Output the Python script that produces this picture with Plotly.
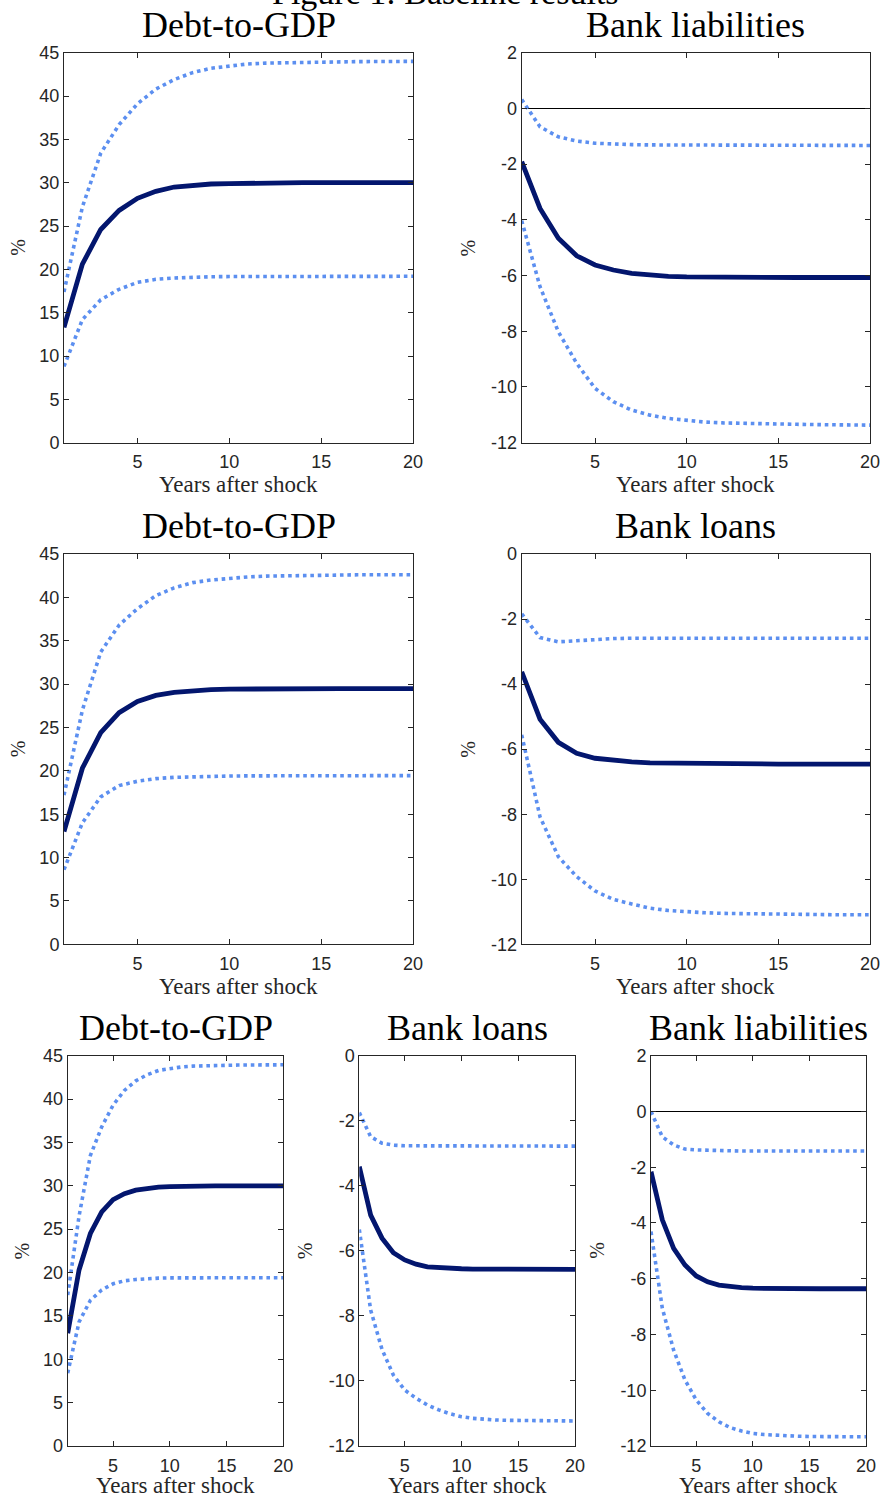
import plotly.graph_objects as go

# Horizon in years after the shock
years = list(range(1, 21))

# Row 1, left: Debt-to-GDP
debt1_mid = [13.3, 20.6, 24.6, 26.8, 28.2, 29.0, 29.5, 29.7, 29.85, 29.9,
             29.95, 29.97, 29.98, 30.0, 30.0, 30.0, 30.0, 30.0, 30.0, 30.0]
debt1_hi = [17.4, 27.2, 33.4, 36.7, 39.1, 40.8, 41.9, 42.7, 43.2, 43.5,
            43.7, 43.8, 43.85, 43.9, 43.92, 43.95, 43.97, 43.98, 44.0, 44.0]
debt1_lo = [8.8, 14.2, 16.5, 17.7, 18.5, 18.85, 19.0, 19.1, 19.15, 19.17,
            19.18, 19.2, 19.2, 19.2, 19.2, 19.2, 19.2, 19.2, 19.2, 19.2]

# Row 1, right: Bank liabilities
liab1_mid = [-1.91, -3.59, -4.66, -5.29, -5.62, -5.80, -5.92, -5.99, -6.03, -6.05,
             -6.06, -6.06, -6.07, -6.07, -6.07, -6.07, -6.07, -6.07, -6.07, -6.07]
liab1_hi = [0.32, -0.66, -1.02, -1.17, -1.25, -1.29, -1.30, -1.31, -1.31, -1.32,
            -1.32, -1.32, -1.32, -1.33, -1.33, -1.33, -1.33, -1.33, -1.33, -1.33]
liab1_lo = [-4.03, -6.40, -8.02, -9.15, -10.05, -10.53, -10.83, -11.01, -11.13, -11.21,
            -11.26, -11.29, -11.31, -11.32, -11.33, -11.34, -11.35, -11.36, -11.36, -11.37]

# Row 2, left: Debt-to-GDP
debt2_mid = [13.0, 20.3, 24.4, 26.7, 28.0, 28.7, 29.05, 29.25, 29.36, 29.42,
             29.45, 29.47, 29.48, 29.48, 29.48, 29.48, 29.48, 29.48, 29.48, 29.48]
debt2_hi = [17.2, 27.0, 33.7, 36.8, 38.7, 40.2, 41.1, 41.7, 42.0, 42.2,
            42.35, 42.45, 42.5, 42.55, 42.57, 42.58, 42.6, 42.6, 42.6, 42.6]
debt2_lo = [8.6, 14.0, 17.0, 18.3, 18.8, 19.1, 19.25, 19.32, 19.38, 19.4,
            19.42, 19.43, 19.44, 19.45, 19.45, 19.45, 19.45, 19.45, 19.45, 19.45]

# Row 2, right: Bank loans
loans2_mid = [-3.62, -5.08, -5.79, -6.13, -6.28, -6.35, -6.39, -6.42, -6.43, -6.44,
              -6.45, -6.45, -6.46, -6.46, -6.46, -6.46, -6.46, -6.46, -6.46, -6.46]
loans2_hi = [-1.84, -2.57, -2.70, -2.66, -2.62, -2.60, -2.59, -2.59, -2.59, -2.59,
             -2.59, -2.59, -2.59, -2.59, -2.59, -2.59, -2.59, -2.59, -2.59, -2.59]
loans2_lo = [-5.56, -8.08, -9.31, -9.92, -10.36, -10.62, -10.76, -10.89, -10.96, -11.00,
             -11.03, -11.05, -11.06, -11.07, -11.07, -11.08, -11.08, -11.09, -11.09, -11.09]

# Row 3: Debt-to-GDP
debt3_mid = [13.0, 20.3, 24.5, 27.0, 28.4, 29.1, 29.5, 29.7, 29.85, 29.9,
             29.95, 29.97, 29.98, 30.0, 30.0, 30.0, 30.0, 30.0, 30.0, 30.0]
debt3_hi = [17.4, 26.5, 33.5, 36.8, 39.3, 41.0, 42.1, 42.8, 43.3, 43.55,
            43.7, 43.8, 43.85, 43.88, 43.9, 43.92, 43.93, 43.94, 43.95, 43.95]
debt3_lo = [8.4, 14.3, 16.8, 18.0, 18.7, 19.05, 19.2, 19.3, 19.35, 19.38,
            19.4, 19.4, 19.4, 19.4, 19.4, 19.4, 19.4, 19.4, 19.4, 19.4]

# Row 3: Bank loans
loans3_mid = [-3.41, -4.90, -5.61, -6.06, -6.28, -6.41, -6.49, -6.52, -6.54, -6.55,
              -6.56, -6.56, -6.57, -6.57, -6.57, -6.57, -6.57, -6.57, -6.57, -6.57]
loans3_hi = [-1.75, -2.49, -2.69, -2.75, -2.77, -2.77, -2.78, -2.78, -2.78, -2.78,
             -2.78, -2.78, -2.78, -2.78, -2.78, -2.78, -2.78, -2.78, -2.78, -2.78]
loans3_lo = [-5.34, -7.82, -9.03, -9.82, -10.28, -10.53, -10.74, -10.89, -11.01, -11.10,
             -11.15, -11.18, -11.20, -11.21, -11.21, -11.22, -11.22, -11.23, -11.23, -11.23]

# Row 3: Bank liabilities
liab3_mid = [-2.16, -3.89, -4.91, -5.51, -5.90, -6.11, -6.23, -6.29, -6.32, -6.34,
             -6.35, -6.35, -6.36, -6.36, -6.36, -6.36, -6.36, -6.36, -6.36, -6.36]
liab3_hi = [0.0, -0.91, -1.20, -1.35, -1.38, -1.40, -1.41, -1.41, -1.42, -1.42,
            -1.42, -1.42, -1.42, -1.42, -1.42, -1.42, -1.42, -1.42, -1.42, -1.42]
liab3_lo = [-4.31, -7.06, -8.56, -9.63, -10.35, -10.83, -11.13, -11.34, -11.46, -11.55,
            -11.59, -11.62, -11.64, -11.65, -11.66, -11.66, -11.67, -11.67, -11.67, -11.67]

# Axis ticks
debt_ticks = list(range(0, 50, 5))
liab_ticks = list(range(-12, 4, 2))
loans_ticks = list(range(-12, 2, 2))
x_ticks = [5, 10, 15, 20]

W, H = 883, 1499
NAVY = "#03166e"
LIGHT = "#5c8ff0"
AXCOL = "#262626"
SERIF = "Liberation Serif"
SANS = "Liberation Sans"

# Panel boxes in pixels: (left, right, top, bottom); xl = gap to the x-axis title
panels = [
    dict(title="Debt-to-GDP", box=(64, 413, 52.7, 442.7), yr=[0, 45], yt=debt_ticks,
         mid=debt1_mid, hi=debt1_hi, lo=debt1_lo, zero=False, pct=46, xl=42),
    dict(title="Bank liabilities", box=(521.7, 870, 52.7, 442.7), yr=[-12, 2], yt=liab_ticks,
         mid=liab1_mid, hi=liab1_hi, lo=liab1_lo, zero=True, pct=54, xl=42),
    dict(title="Debt-to-GDP", box=(64, 413, 554, 944.3), yr=[0, 45], yt=debt_ticks,
         mid=debt2_mid, hi=debt2_hi, lo=debt2_lo, zero=False, pct=46, xl=42),
    dict(title="Bank loans", box=(521.7, 870, 554, 944.3), yr=[-12, 0], yt=loans_ticks,
         mid=loans2_mid, hi=loans2_hi, lo=loans2_lo, zero=False, pct=54, xl=42),
    dict(title="Debt-to-GDP", box=(67.7, 283.3, 1055.7, 1446), yr=[0, 45], yt=debt_ticks,
         mid=debt3_mid, hi=debt3_hi, lo=debt3_lo, zero=False, pct=46, xl=39),
    dict(title="Bank loans", box=(359.3, 575, 1055.7, 1446), yr=[-12, 0], yt=loans_ticks,
         mid=loans3_mid, hi=loans3_hi, lo=loans3_lo, zero=False, pct=54, xl=39),
    dict(title="Bank liabilities", box=(651, 866, 1055.7, 1446), yr=[-12, 2], yt=liab_ticks,
         mid=liab3_mid, hi=liab3_hi, lo=liab3_lo, zero=True, pct=54, xl=39),
]

fig = go.Figure()
layout = dict(
    template="none",
    width=W, height=H,
    margin=dict(l=0, r=0, t=0, b=0, pad=0),
    paper_bgcolor="white", plot_bgcolor="white",
    showlegend=False,
)
annotations = []

for i, p in enumerate(panels, start=1):
    xa = "x" if i == 1 else f"x{i}"
    ya = "y" if i == 1 else f"y{i}"
    left, right, top, bottom = p["box"]

    axis_common = dict(
        showgrid=False, showline=True, linecolor=AXCOL, linewidth=1,
        mirror="ticks", ticks="inside", ticklen=5, tickwidth=1, tickcolor=AXCOL,
        tickfont=dict(family=SANS, size=18, color=AXCOL), automargin=False,
    )
    layout["xaxis" if i == 1 else f"xaxis{i}"] = dict(
        axis_common, domain=[left / W, right / W], anchor=ya,
        range=[1, 20], tickvals=x_ticks, ticktext=[str(v) for v in x_ticks],
        zeroline=False, ticklabelstandoff=3,
    )
    layout["yaxis" if i == 1 else f"yaxis{i}"] = dict(
        axis_common, domain=[1 - bottom / H, 1 - top / H], anchor=xa,
        range=p["yr"], tickvals=p["yt"], ticktext=[str(v) for v in p["yt"]],
        zeroline=p["zero"], zerolinecolor="black", zerolinewidth=1,
    )

    for series in (p["hi"], p["lo"]):
        fig.add_trace(go.Scatter(
            x=years, y=series, xaxis=xa, yaxis=ya, mode="lines",
            line=dict(color=LIGHT, width=3.6, dash="3.6px,3.8px"), hoverinfo="skip",
        ))
    fig.add_trace(go.Scatter(
        x=years, y=p["mid"], xaxis=xa, yaxis=ya, mode="lines",
        line=dict(color=NAVY, width=4.8), hoverinfo="skip",
    ))

    cx = (left + right) / 2
    # Panel title
    annotations.append(dict(
        text=p["title"], x=cx / W, y=1 - (top - 6) / H, xref="paper", yref="paper",
        xanchor="center", yanchor="bottom", showarrow=False,
        font=dict(family=SERIF, size=36, color="black"),
    ))
    # x-axis title
    annotations.append(dict(
        text="Years after shock", x=cx / W, y=1 - (bottom + p["xl"]) / H,
        xref="paper", yref="paper", xanchor="center", yanchor="middle",
        showarrow=False, font=dict(family=SERIF, size=23, color=AXCOL),
    ))
    # y-axis title
    annotations.append(dict(
        text="%", x=(left - p["pct"]) / W, y=1 - ((top + bottom) / 2) / H,
        xref="paper", yref="paper", xanchor="center", yanchor="middle",
        textangle=-90, showarrow=False,
        font=dict(family=SERIF, size=20, color=AXCOL),
    ))

# Figure title, partly above the top edge
annotations.append(dict(
    text="Figure 1: Baseline results", x=445 / W, y=1 - 13 / H,
    xref="paper", yref="paper", xanchor="center", yanchor="bottom",
    showarrow=False, font=dict(family=SERIF, size=34, color="black"),
))

layout["annotations"] = annotations
fig.update_layout(**layout)
fig.write_html("out.html")
